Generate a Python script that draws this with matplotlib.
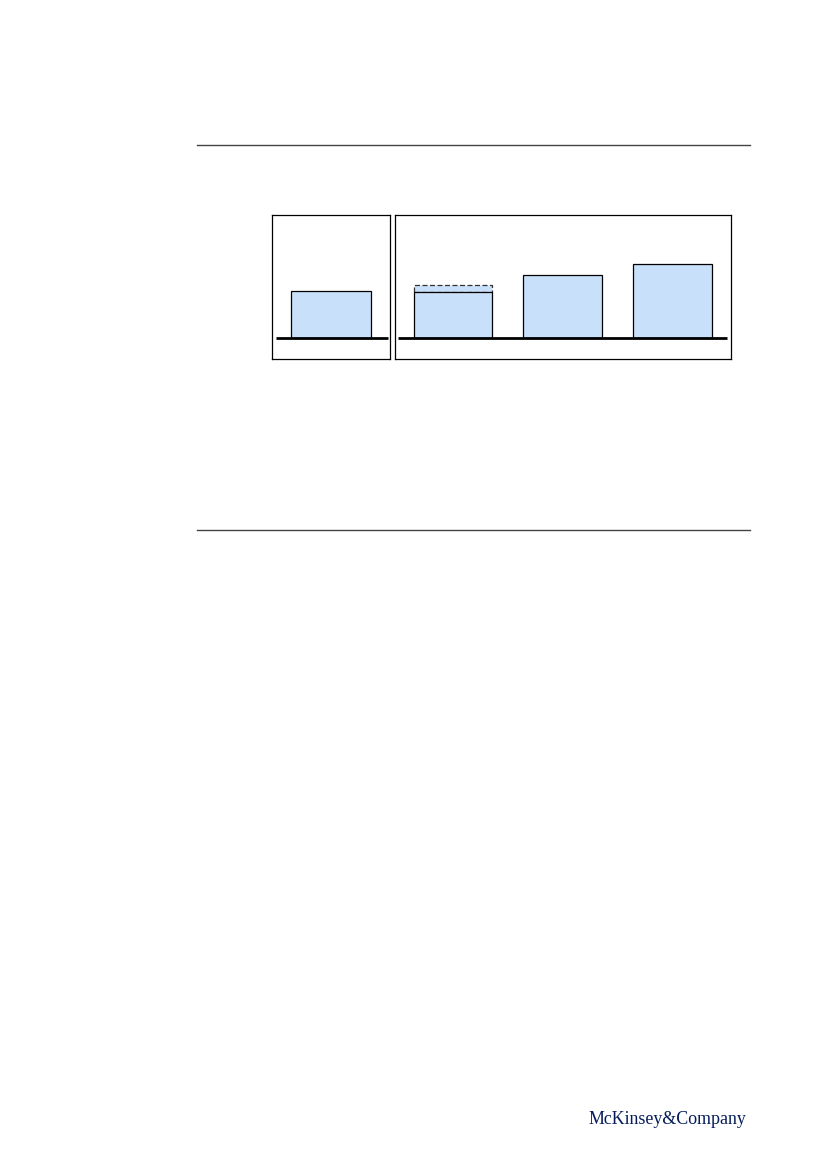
import matplotlib
matplotlib.use("Agg")
import matplotlib.pyplot as plt
from matplotlib.lines import Line2D

# values (same unit in both panels)
left_vals = [47]
right_vals = [46, 63, 74]
right_extra = [7, 0, 0]   # dashed add-on on top of the first bar

bar_color = "#C8E0F9"
navy = "#051C5A"

W, H = 826, 1169
fig = plt.figure(figsize=(W / 100, H / 100), dpi=100)


def px_axes(x0, y0, x1, y1):
    return fig.add_axes([x0 / W, 1 - y1 / H, (x1 - x0) / W, (y1 - y0) / H])


def style(ax):
    ax.set_xticks([])
    ax.set_yticks([])
    for s in ax.spines.values():
        s.set_linewidth(0.9)
        s.set_color("black")
    ax.set_ylim(-21, 123)


# left panel
ax1 = px_axes(271.7, 215.3, 390.3, 359.3)
style(ax1)
ax1.bar(range(len(left_vals)), left_vals, width=1.0, color=bar_color,
        edgecolor="black", linewidth=0.9, zorder=2)
ax1.set_xlim(-0.75, 0.75)
ax1.hlines(0, -0.70, 0.72, color="black", linewidth=2.0, zorder=3)

# right panel
ax2 = px_axes(395.3, 215.3, 730.7, 359.3)
style(ax2)
xs = range(len(right_vals))
ax2.bar(xs, right_vals, width=0.715, color=bar_color,
        edgecolor="black", linewidth=0.9, zorder=2)
for x, v, e in zip(xs, right_vals, right_extra):
    if e:
        ax2.bar(x, e, bottom=v, width=0.715, color=bar_color,
                edgecolor="#333333", linewidth=0.9, linestyle=(0, (4, 2)), zorder=1)
ax2.set_xlim(-0.524, 2.532)
ax2.hlines(0, -0.5, 2.5, color="black", linewidth=2.0, zorder=3)

# horizontal rules
for y in (145, 530):
    fig.add_artist(Line2D([197 / W, 750 / W], [1 - y / H, 1 - y / H],
                          color="#444444", linewidth=1.0))

fig.text(746 / W, 1 - 1119 / H, "McKinsey&Company", ha="right", va="center",
         fontsize=12.9, family="Liberation Serif", color=navy)

fig.savefig("out.png", dpi=100)
